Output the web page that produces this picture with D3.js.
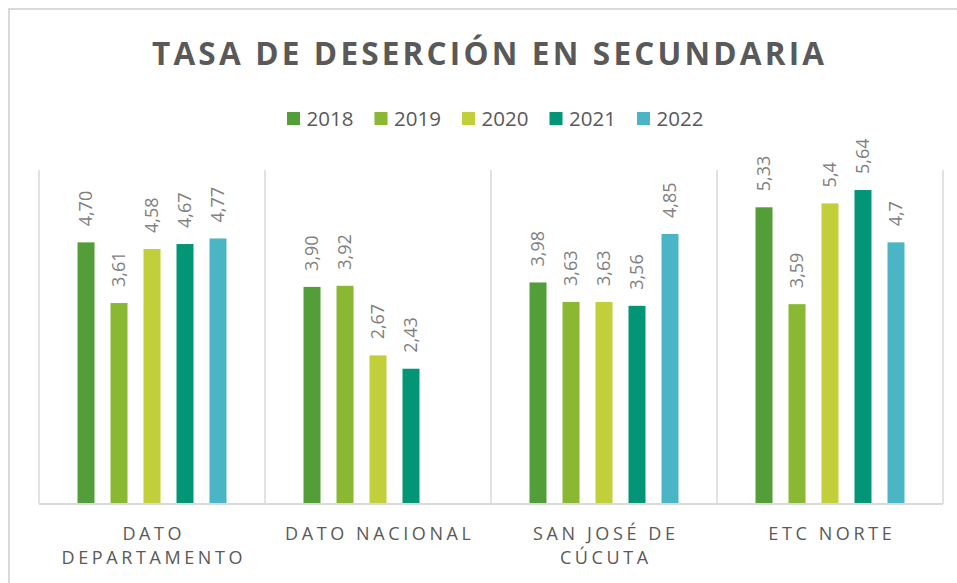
<!DOCTYPE html>
<html>
<head>
<meta charset="utf-8">
<script src="https://cdn.jsdelivr.net/npm/d3@7"></script>
<style>
  html, body { margin: 0; padding: 0; background: #ffffff; }
  svg { display: block; font-family: "Open Sans", sans-serif; }
</style>
</head>
<body>
<svg id="chart" width="957" height="583"></svg>
<script>
const title = "TASA DE DESERCIÓN EN SECUNDARIA";
const categories = ["DATO DEPARTAMENTO", "DATO NACIONAL", "SAN JOSÉ DE CÚCUTA", "ETC NORTE"];
const years = ["2018", "2019", "2020", "2021", "2022"];
const colors = ["#549E39", "#8AB833", "#C0CF3A", "#029676", "#4AB5C4"];

const v2018 = [4.70, 3.90, 3.98, 5.33];
const v2019 = [3.61, 3.92, 3.63, 3.59];
const v2020 = [4.58, 2.67, 3.63, 5.4];
const v2021 = [4.67, 2.43, 3.56, 5.64];
const v2022 = [4.77, null, 4.85, 4.7];

const l2018 = ["4,70", "3,90", "3,98", "5,33"];
const l2019 = ["3,61", "3,92", "3,63", "3,59"];
const l2020 = ["4,58", "2,67", "3,63", "5,4"];
const l2021 = ["4,67", "2,43", "3,56", "5,64"];
const l2022 = ["4,77", null, "4,85", "4,7"];

const series = [v2018, v2019, v2020, v2021, v2022];
const labels = [l2018, l2019, l2020, l2021, l2022];
const yDomain = [0, 6];

const svg = d3.select("#chart");

// outer chart border
svg.append("rect")
  .attr("x", 9).attr("y", 9).attr("width", 960).attr("height", 600)
  .attr("fill", "none").attr("stroke", "#d9d9d9").attr("stroke-width", 2);

const plot = { left: 39, right: 943, top: 170, bottom: 504 };

const x = d3.scaleBand().domain(categories).range([plot.left, plot.right]).padding(0);
const xi = d3.scaleBand().domain(years).range([0, x.bandwidth()])
  .paddingInner(0.485).paddingOuter(1.167);
const y = d3.scaleLinear().domain(yDomain).range([plot.bottom, plot.top]);

// title
svg.append("text")
  .attr("x", 488).attr("y", 65)
  .attr("text-anchor", "middle")
  .attr("textLength", 672).attr("lengthAdjust", "spacing")
  .attr("font-size", 31.5).attr("font-weight", 700)
  .attr("fill", "#595959")
  .text(title);

// legend
const lx = d3.scalePoint().domain(years).range([287, 637]);
const leg = svg.append("g").selectAll("g").data(years).join("g")
  .attr("transform", d => `translate(${lx(d)},0)`);
leg.append("rect").attr("x", 0).attr("y", 112).attr("width", 13).attr("height", 13)
  .attr("fill", (d, i) => colors[i]);
leg.append("text").attr("x", 19.5).attr("y", 126)
  .attr("font-size", 20.5).attr("fill", "#595959").text(d => d);

// vertical separators (category boundaries)
const bounds = categories.map(c => x(c)).concat([plot.right]);
svg.append("g").selectAll("line").data(bounds).join("line")
  .attr("x1", d => d).attr("x2", d => d)
  .attr("y1", plot.top).attr("y2", plot.bottom)
  .attr("stroke", "#d9d9d9").attr("stroke-width", 1.5);

// bars
const groups = svg.append("g").selectAll("g").data(years).join("g")
  .attr("fill", (d, i) => colors[i]);
groups.each(function(yr, si) {
  const g = d3.select(this);
  const data = categories.map((c, ci) => ({ c, v: series[si][ci], l: labels[si][ci] }))
    .filter(d => d.v != null);
  g.selectAll("rect").data(data).join("rect")
    .attr("x", d => x(d.c) + xi(yr))
    .attr("width", xi.bandwidth())
    .attr("y", d => y(d.v))
    .attr("height", d => y(0) - y(d.v));
  g.selectAll("text").data(data).join("text")
    .attr("transform", d => `translate(${x(d.c) + xi(yr) + xi.bandwidth() / 2},${y(d.v) - 16}) rotate(-90)`)
    .attr("dy", "0.35em")
    .attr("font-size", 18).attr("fill", "#808080")
    .text(d => d.l);
});

// baseline axis
const xAxis = d3.axisBottom(x).tickSize(0).tickPadding(0);
const ax = svg.append("g").attr("transform", `translate(0,${plot.bottom})`).call(xAxis);
ax.select(".domain").attr("stroke", "#d9d9d9").attr("stroke-width", 2)
  .attr("d", `M${plot.left},0H${plot.right}`);
ax.selectAll(".tick text").remove();

// category labels with wrapping
const maxW = 215;
ax.selectAll(".tick").each(function(c) {
  const t = d3.select(this).append("text")
    .attr("fill", "#595959").attr("font-size", 18)
    .attr("letter-spacing", "3.6px")
    .attr("text-anchor", "middle")
    .attr("font-family", "Open Sans, sans-serif");
  const words = c.split(" ");
  let lines = [], cur = [];
  const probe = t.append("tspan");
  words.forEach(w => {
    const test = cur.concat([w]).join(" ");
    probe.text(test);
    if (probe.node().getComputedTextLength() > maxW && cur.length) {
      lines.push(cur.join(" ")); cur = [w];
    } else cur.push(w);
  });
  lines.push(cur.join(" "));
  probe.remove();
  lines.forEach((ln, i) => {
    t.append("tspan").attr("x", 1.8).attr("y", 35.5 + i * 24.5).text(ln);
  });
});
</script>
</body>
</html>
